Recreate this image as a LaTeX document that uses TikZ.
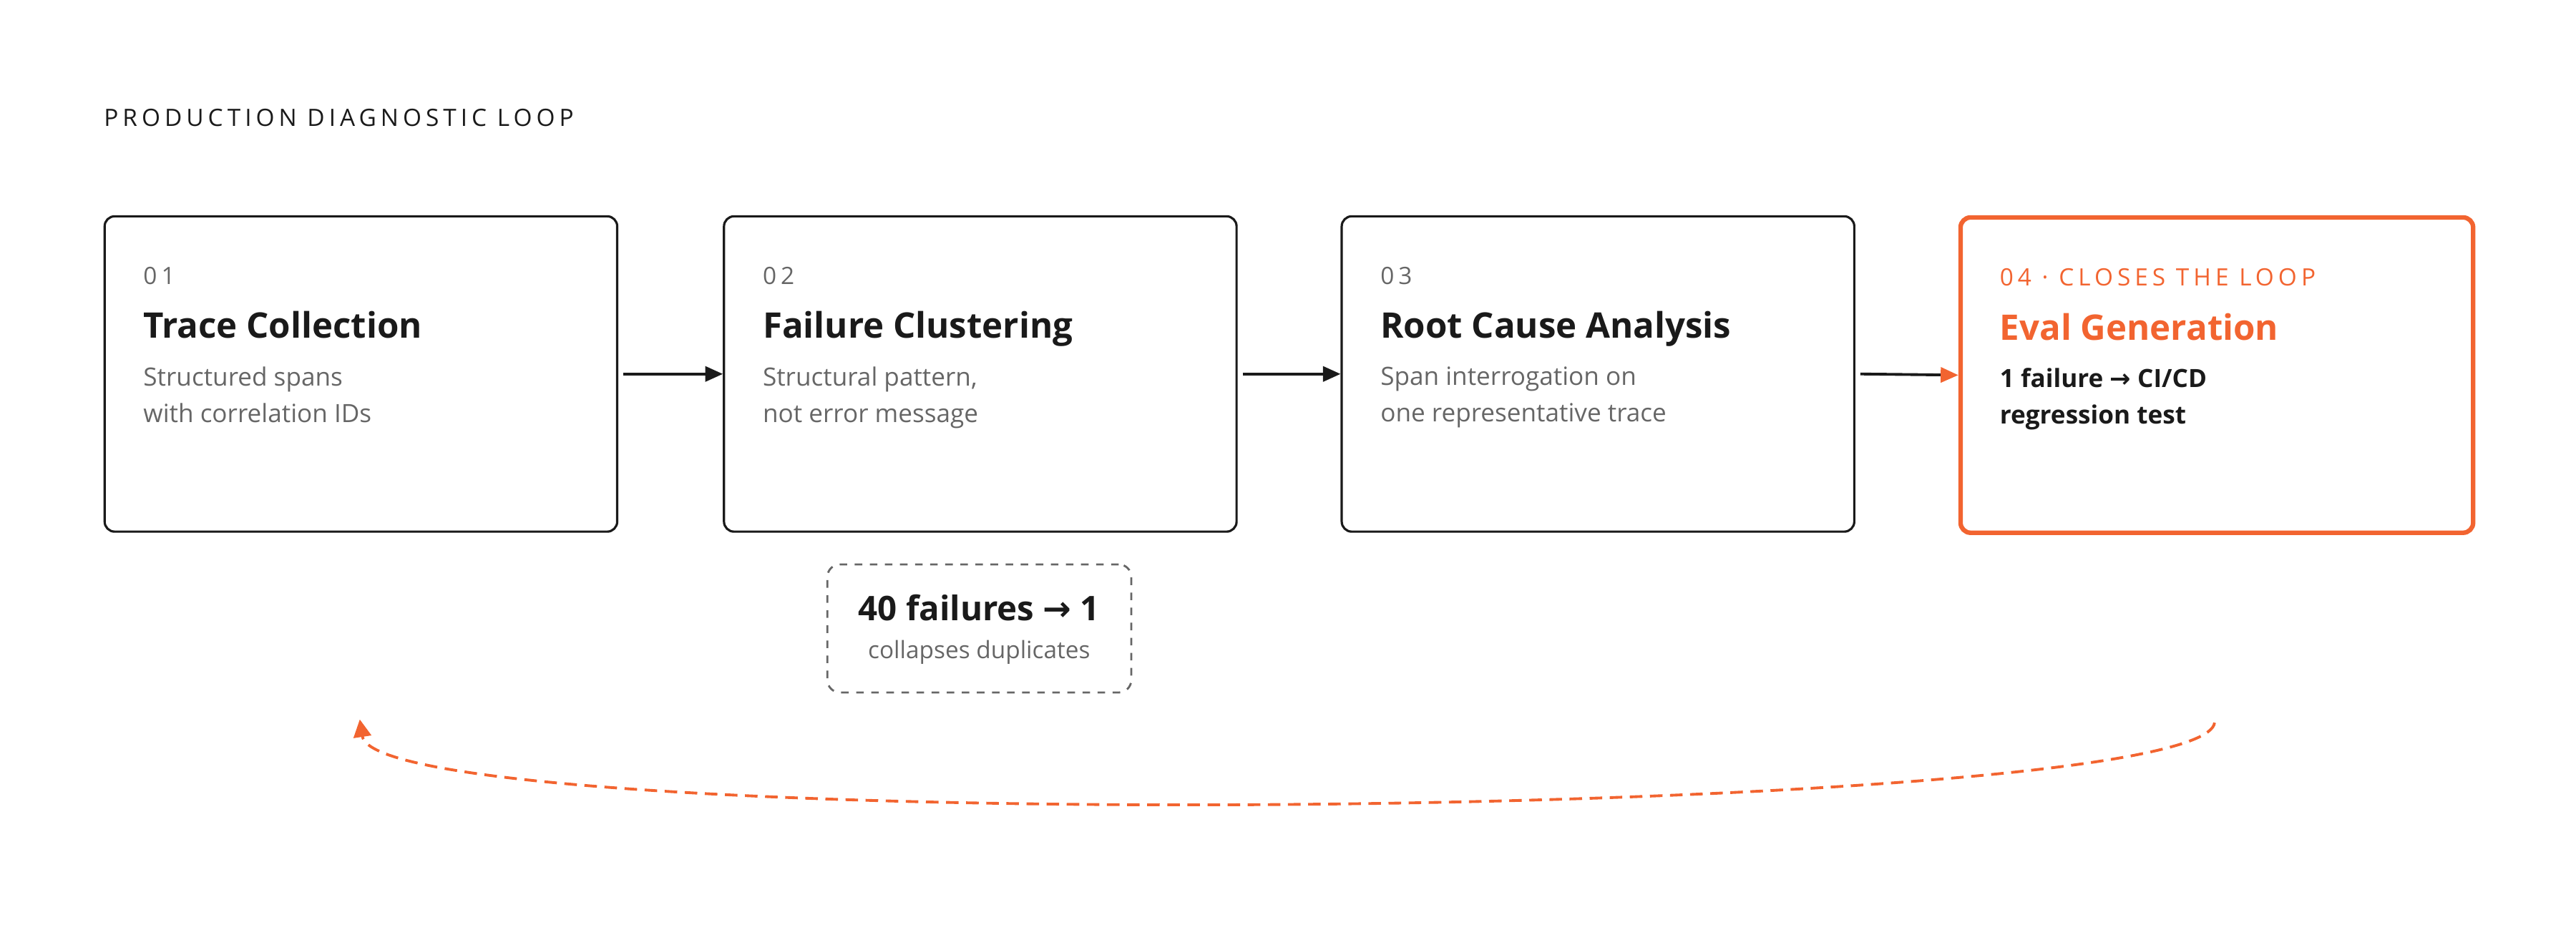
\documentclass[tikz,border=0pt]{standalone}
\usepackage{fontspec}
\setmainfont{Open Sans}
\newfontfamily\spaced[LetterSpace=18]{Open Sans}
\newfontfamily\arrowfont{DejaVu Sans}
\usetikzlibrary{arrows.meta, positioning}
\definecolor{accent}{HTML}{F26430}
\definecolor{ink}{HTML}{1A1A1A}
\definecolor{muted}{HTML}{666666}
\newcommand{\rarr}{{\arrowfont →}}

\begin{document}
\begin{tikzpicture}[x=0.02296cm, y=-0.02296cm,
        stage/.style={draw=ink, line width=0.9pt, rounded corners=4pt, minimum width=312*0.02296cm, minimum height=192*0.02296cm, anchor=north west},
        lastStage/.style={stage, draw=accent, line width=1.8pt},
        num/.style={anchor=base west, font=\spaced\fontsize{9.5}{11}\selectfont, text=muted, inner sep=0},
        head/.style={anchor=base west, font=\bfseries\fontsize{14}{16}\selectfont, text=ink, inner sep=0},
        desc/.style={anchor=north west, font=\fontsize{10}{14.5}\selectfont, text=muted, align=left, inner sep=0},
        arrow/.style={-{Triangle[length=7pt, width=6pt]}, line width=1.1pt, draw=ink}
    ]
    \useasboundingbox (0,0) rectangle (1568,566);

    % Title
    \node[num, text=ink] (title) at (63,77) {PRODUCTION DIAGNOSTIC LOOP};

    % Stages
    \node[stage] (s1) at (63,131) {};
    \node[stage] (s2) at (440,131) {};
    \node[stage] (s3) at (816,131) {};
    \node[lastStage] (s4) at (1192,131) {};

    \node[num] (n1) at (87,173) {01};
    \node[head] (h1) at (87,206) {Trace Collection};
    \node[desc] (d1) at (87,223) {Structured spans\\with correlation IDs};

    \node[num] (n2) at (464,173) {02};
    \node[head] (h2) at (464,206) {Failure Clustering};
    \node[desc] (d2) at (464,223) {Structural pattern,\\not error message};

    \node[num] (n3) at (840,173) {03};
    \node[head] (h3) at (840,206) {Root Cause Analysis};
    \node[desc] (d3) at (840,223) {Span interrogation on\\one representative trace};

    \node[num, text=accent] (n4) at (1217,174) {04 · CLOSES THE LOOP};
    \node[head, text=accent] (h4) at (1217,207) {Eval Generation};
    \node[desc, text=ink, font=\bfseries\fontsize{10}{14.5}\selectfont] (d4) at (1217,224) {1 failure \rarr{} CI/CD\\regression test};

    % Arrows between stages
    \draw[arrow] (s1.east) ++(3,0) coordinate (a1) -- (s2.west);
    \draw[arrow] (s2.east) ++(3,0) coordinate (a2) -- (s3.west);
    \draw[line width=1.1pt, draw=ink, -{Triangle[length=7pt, width=6pt, color=accent]}] (s3.east) ++(3,0) coordinate (a3) -- (s4.west);

    % Dedup note
    \node[draw=muted, dashed, line width=0.8pt, rounded corners=5pt, minimum width=185*0.02296cm, minimum height=78*0.02296cm, anchor=north west] (note) at (503,343) {};
    \node[font=\bfseries\fontsize{13.5}{16}\selectfont, text=ink] (noteHead) at (596,370) {40 failures \rarr{} 1};
    \node[font=\fontsize{9.5}{12}\selectfont, text=muted] (noteText) at (596,397) {collapses duplicates};

    % Feedback loop
    \coordinate (loopStart) at (1348,440);
    \coordinate (loopEnd) at (219,438);
    \draw[accent, dash pattern=on 5pt off 3pt, line width=1.1pt, -{Triangle[length=7pt, width=7pt]}]
        (loopStart) .. controls (1340,500) and (230,510) .. (loopEnd);
\end{tikzpicture}
\end{document}
